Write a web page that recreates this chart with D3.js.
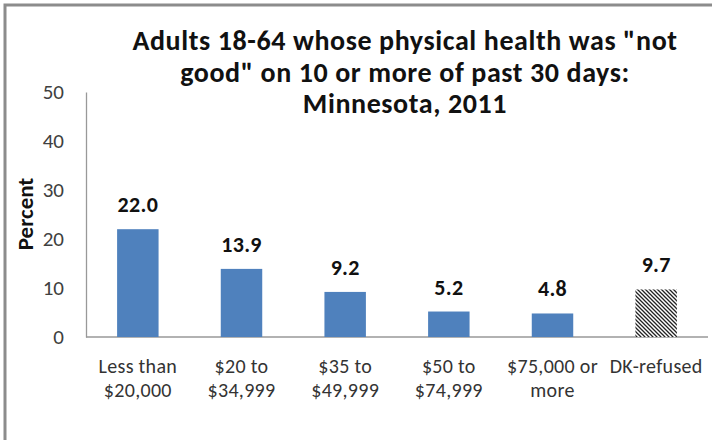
<!DOCTYPE html>
<html><head><meta charset="utf-8">
<script src="https://cdn.jsdelivr.net/npm/d3@7"></script>
<style>
body{margin:0;background:#fff;}
svg{display:block;font-family:Carlito,Lato,"Open Sans",sans-serif;}
</style></head>
<body><svg id="c" width="712" height="440"></svg>
<script>
const categories = [["Less than","$20,000"],["$20 to","$34,999"],["$35 to","$49,999"],["$50 to","$74,999"],["$75,000 or","more"],["DK-refused"]];
const values = [22.0, 13.9, 9.2, 5.2, 4.8, 9.7];
const hatched = [false,false,false,false,false,true];
const yTicks = [0,10,20,30,40,50];
const titleLines = ['Adults 18-64 whose physical health was "not', 'good" on 10 or more of past 30 days:', 'Minnesota, 2011'];

const FONT = 'Carlito,Lato,"Open Sans",sans-serif';
const svg = d3.select("#c");
const defs = svg.append("defs");
const pat = defs.append("pattern").attr("id","hatch").attr("patternUnits","userSpaceOnUse")
  .attr("width",4).attr("height",4);
pat.append("rect").attr("width",4).attr("height",4).attr("fill","#fff");
pat.append("path").attr("d","M-1,-1L5,5M-1,3L1,5M3,-1L5,1").attr("stroke","#222").attr("stroke-width",1.3);

// frame
svg.append("path").attr("d","M5,440V5H712").attr("fill","none").attr("stroke","#8c8c8c").attr("stroke-width",3);

const x = d3.scaleBand().domain(d3.range(values.length)).range([86,708]).paddingInner(0.6).paddingOuter(0.3);
const y = d3.scaleLinear().domain([0,50]).range([337,92]);

// y axis
const ya = svg.append("g").attr("transform","translate(86,0)")
  .call(d3.axisLeft(y).tickValues(yTicks).tickSize(0).tickPadding(22))
  .attr("font-family",FONT);
ya.select(".domain").attr("stroke","#999").attr("stroke-width",1.3);
ya.selectAll("text").attr("font-size",21).attr("fill","#404040").attr("font-family",FONT);

// x axis line
svg.append("line").attr("x1",86).attr("x2",708).attr("y1",y(0)).attr("y2",y(0)).attr("stroke","#999").attr("stroke-width",1.3);

svg.append("g").selectAll("rect").data(values).join("rect")
  .attr("x",(d,i)=>x(i)).attr("width",x.bandwidth())
  .attr("y",d=>y(d)).attr("height",d=>y(0)-y(d))
  .attr("fill",(d,i)=>hatched[i]?"url(#hatch)":"#4f81bd");

svg.append("g").selectAll("text").data(values).join("text")
  .attr("x",(d,i)=>x(i)+x.bandwidth()/2).attr("y",d=>y(d)-17)
  .attr("text-anchor","middle").attr("font-size",22).attr("font-weight","bold")
  .attr("letter-spacing",0.3).attr("fill","#111")
  .text(d=>d.toFixed(1));

// x labels
const xl = svg.append("g").selectAll("text").data(categories).join("text")
  .attr("x",(d,i)=>x(i)+x.bandwidth()/2).attr("y",373)
  .attr("text-anchor","middle").attr("font-size",20).attr("letter-spacing",0.3).attr("fill","#333");
xl.selectAll("tspan").data(d=>d).join("tspan")
  .attr("x",function(){return this.parentNode.getAttribute("x");})
  .attr("dy",(d,i)=>i?24:0).text(d=>d);

// y title
svg.append("text").attr("transform","translate(33,214) rotate(-90)")
  .attr("text-anchor","middle").attr("font-size",23).attr("font-weight","bold").attr("fill","#111").text("Percent");

// title
svg.append("g").selectAll("text").data(titleLines).join("text")
  .attr("x",405).attr("y",(d,i)=>50+i*31.5).attr("text-anchor","middle")
  .attr("font-size",28).attr("font-weight","bold").attr("letter-spacing",0.6).attr("fill","#111").text(d=>d);
</script></body></html>
